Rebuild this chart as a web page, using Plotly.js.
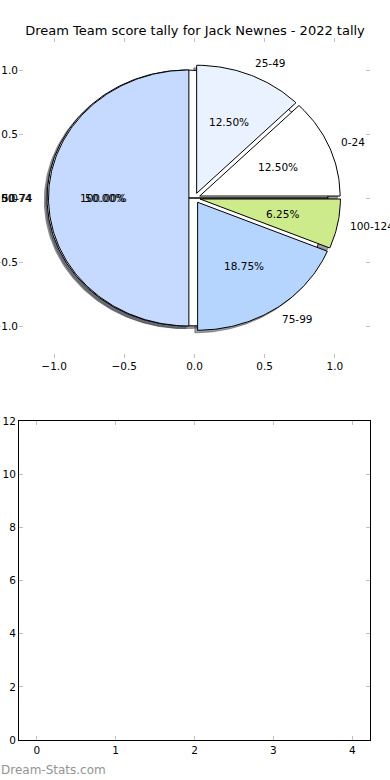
<!DOCTYPE html>
<html>
<head>
<meta charset="utf-8">
<script src="https://cdn.plot.ly/plotly-3.0.1.min.js"></script>
<style>html,body{margin:0;padding:0;background:#fff;}#chart{width:390px;height:780px;}</style>
</head>
<body>
<div id="chart"></div>
<script>
// ---- data ----
const labels = ['0-24', '25-49', '50-74', '75-99', '100-124'];
const values = [2, 2, 8, 3, 1];
const colors = ['#ffffff', '#eaf1ff', '#c6d9ff', '#b5d5ff', '#cdeb8b'];
const explode = [0.04, 0.04, 0.04, 0.04, 0.04];
// an earlier single-wedge pie drawn underneath (as in the source image)
const underLabels = ['50-74'];
const underValues = [1];
const underColors = ['#ffffff'];
const underExplode = [0.05];
const pieTicks = [-1, -0.5, 0, 0.5, 1];
const barXTicks = [0, 1, 2, 3, 4];
const barYTicks = [0, 2, 4, 6, 8, 10, 12];
const titleText = 'Dream Team score tally for Jack Newnes - 2022 tally';

const FONT = 'DejaVu Sans, sans-serif';
const traces = [];
const annotations = [];

function wedgePoly(a0, a1, cx, cy) {
  const xs = [cx], ys = [cy];
  const n = Math.max(2, Math.ceil((a1 - a0) / 1));
  for (let k = 0; k <= n; k++) {
    const a = (a0 + (a1 - a0) * k / n) * Math.PI / 180;
    xs.push(cx + Math.cos(a)); ys.push(cy + Math.sin(a));
  }
  xs.push(cx); ys.push(cy);
  return [xs, ys];
}

function buildPie(labs, vals, cols, expl) {
  const total = vals.reduce((a, b) => a + b, 0);
  let cum = 0;
  const wedges = [];
  labs.forEach((lab, i) => {
    const a0 = 360 * cum / total;
    cum += vals[i];
    const a1 = 360 * cum / total;
    const mid = (a0 + a1) / 2 * Math.PI / 180;
    const cx = expl[i] * Math.cos(mid), cy = expl[i] * Math.sin(mid);
    const [xs, ys] = wedgePoly(a0, a1, cx, cy);
    wedges.push({lab, xs, ys, col: cols[i], mid, cx, cy, pct: 100 * vals[i] / total});
  });
  return wedges;
}

const under = buildPie(underLabels, underValues, underColors, underExplode);
const main = buildPie(labels, values, colors, explode);

// shadows
[...under, ...main].forEach(w => {
  traces.push({
    type: 'scatter', mode: 'lines', xaxis: 'x', yaxis: 'y',
    x: w.xs.map(v => v - 0.02), y: w.ys.map(v => v - 0.02),
    fill: 'toself', fillcolor: 'rgba(55,60,70,0.5)',
    line: {color: 'rgba(55,60,70,0.45)', width: 1},
    hoverinfo: 'skip', showlegend: false
  });
});
// wedges
[...under, ...main].forEach(w => {
  traces.push({
    type: 'scatter', mode: 'lines', xaxis: 'x', yaxis: 'y',
    x: w.xs, y: w.ys, fill: 'toself', fillcolor: w.col,
    line: {color: '#000', width: 1},
    hoverinfo: 'skip', showlegend: false
  });
});
// labels & percentages
[...under, ...main].forEach(w => {
  const c = Math.cos(w.mid), s = Math.sin(w.mid);
  annotations.push({
    xref: 'x', yref: 'y', x: w.cx + 1.1 * c, y: w.cy + 1.1 * s,
    text: w.lab, showarrow: false,
    xanchor: c >= 0 ? 'left' : 'right', yanchor: 'middle',
    xshift: c >= 0 ? -2 : 0,
    font: {family: FONT, size: 10.5, color: '#000'}, borderpad: 0
  });
  annotations.push({
    xref: 'x', yref: 'y', x: w.cx + 0.6 * c, y: w.cy + 0.6 * s,
    text: w.pct.toFixed(2) + '%', showarrow: false,
    xanchor: 'center', yanchor: 'middle',
    font: {family: FONT, size: 10.5, color: '#000'}, borderpad: 0
  });
});
// empty lower axes needs a trace to exist
traces.push({type: 'scatter', mode: 'markers', xaxis: 'x2', yaxis: 'y2', x: [], y: [], showlegend: false});

annotations.push({
  xref: 'paper', yref: 'paper', x: 0, y: 1 - 770 / 780, xanchor: 'left', yanchor: 'middle',
  text: 'Dream-Stats.com', showarrow: false,
  font: {family: FONT, size: 12, color: '#939393'}, borderpad: 0
});

const tickStyle = {
  ticks: 'inside', ticklen: 4, tickwidth: 1, tickcolor: '#c0c0c0',
  showgrid: false, zeroline: false, fixedrange: true,
  tickfont: {family: FONT, size: 10.5, color: '#000'}
};

const layout = {
  width: 390, height: 780,
  margin: {l: 0, r: 0, t: 0, b: 0},
  paper_bgcolor: '#fff', plot_bgcolor: 'rgba(0,0,0,0)',
  showlegend: false,
  title: {text: titleText, x: 0.5, xanchor: 'center', y: 1 - 30 / 780, yanchor: 'middle',
          font: {family: FONT, size: 13, color: '#000'}},
  xaxis: Object.assign({}, tickStyle, {
    domain: [19 / 390, 370 / 390], range: [-1.25, 1.25], anchor: 'y',
    tickvals: pieTicks, tickformat: '.1f', showline: false, mirror: 'ticks'
  }),
  yaxis: Object.assign({}, tickStyle, {
    domain: [1 - 358 / 780, 1 - 38 / 780], range: [-1.25, 1.25], anchor: 'x',
    tickvals: pieTicks, tickformat: '.1f', showline: false, mirror: 'ticks'
  }),
  xaxis2: Object.assign({}, tickStyle, {
    domain: [19 / 390, 370 / 390], range: [-0.225, 4.225], anchor: 'y2',
    tickvals: barXTicks, showline: true, linecolor: '#000', linewidth: 1, mirror: 'ticks'
  }),
  yaxis2: Object.assign({}, tickStyle, {
    domain: [1 - 740 / 780, 1 - 421 / 780], range: [0, 12], anchor: 'x2',
    tickvals: barYTicks, showline: true, linecolor: '#000', linewidth: 1, mirror: 'ticks'
  }),
  annotations: annotations
};

Plotly.newPlot('chart', traces, layout, {staticPlot: true, displayModeBar: false});
</script>
</body>
</html>
